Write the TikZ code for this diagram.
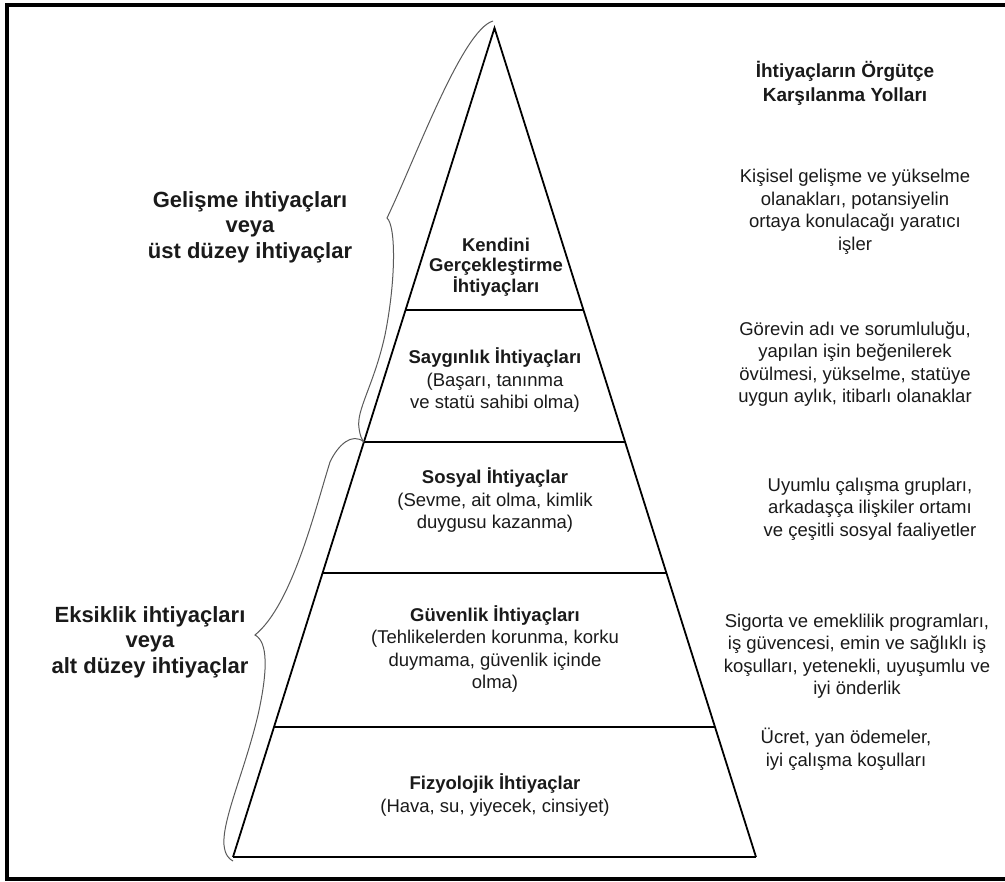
\documentclass[tikz,border=0pt]{standalone}
\usepackage{fontspec}
\setmainfont{Liberation Sans}
\usetikzlibrary{calc}
\definecolor{ink}{HTML}{1A1A1A}
\definecolor{bracegray}{HTML}{5A5A5A}
\begin{document}
\begin{tikzpicture}[x=1pt,y=-1pt,
  body/.style={font=\fontsize{18.5}{22.5}\selectfont, align=center, inner sep=0pt, text=ink},
  bodytight/.style={font=\fontsize{18.5}{20.5}\selectfont, align=center, inner sep=0pt, text=ink},
  header/.style={font=\bfseries\fontsize{19}{24}\selectfont, align=center, inner sep=0pt, text=ink},
  sidelabel/.style={font=\bfseries\fontsize{22}{25.5}\selectfont, align=center, inner sep=0pt, text=ink},
  pyrside/.style={line width=1.8pt, black},
  layer/.style={line width=2.3pt, black},
  bracket/.style={line width=1pt, bracegray},
  frameline/.style={line width=3.5pt, black}]
\useasboundingbox (0,0) rectangle (1005,882);
\clip (0,0) rectangle (1005,882);
\fill[white] (0,0) rectangle (1005,882);

% outer frame
\draw[frameline] (7,5) rectangle (1020,879);

% pyramid outline
\coordinate (apex) at (494.5,28);
\coordinate (bl) at (233,857);
\coordinate (br) at (756,857);
\draw[pyrside, line join=miter] (bl) -- (apex) -- (br);
\draw[layer] (bl) -- (br);

% level dividers
\foreach \t/\n in {0.3402/a, 0.4994/b, 0.6574/c, 0.8432/d}{
  \coordinate (L\n) at ($(apex)!\t!(bl)$);
  \coordinate (R\n) at ($(apex)!\t!(br)$);
  \draw[layer] (L\n) -- (R\n);
}

% braces on the left side
\coordinate (b1top) at (493,21);
\coordinate (b1tip) at (387,218);
\coordinate (b1bot) at (364,442);
\coordinate (b2tip) at (255,635);
\coordinate (b2bot) at (233,861);
\draw[bracket] (b1top) .. controls (462,30) and (415,160) .. (b1tip)
  .. controls (396,226) and (396,280) .. (385,335)
  .. controls (374,385) and (356,410) .. (359,428)
  .. controls (360,436) and (362,440) .. (b1bot);
\draw[bracket] (b1bot) .. controls (352,432) and (338,445) .. (330,462)
  .. controls (315,510) and (292,605) .. (b2tip)
  .. controls (268,642) and (268,670) .. (258,715)
  .. controls (245,770) and (222,820) .. (224,845)
  .. controls (225,855) and (229,859) .. (b2bot);

% pyramid level texts
\node[bodytight] (kendini) at (496,267) {\textbf{Kendini}\\\textbf{Gerçekleştirme}\\\textbf{İhtiyaçları}};
\node[body] (saygi) at (495,380) {\textbf{Saygınlık İhtiyaçları}\\(Başarı, tanınma\\ve statü sahibi olma)};
\node[body] (sosyal) at (495,500) {\textbf{Sosyal İhtiyaçlar}\\(Sevme, ait olma, kimlik\\duygusu kazanma)};
\node[body] (guven) at (495,649) {\textbf{Güvenlik İhtiyaçları}\\(Tehlikelerden korunma, korku\\duymama, güvenlik içinde\\olma)};
\node[body] (fizyo) at (495,795) {\textbf{Fizyolojik İhtiyaçlar}\\(Hava, su, yiyecek, cinsiyet)};

% right column
\node[header] (baslik) at (845,83) {İhtiyaçların Örgütçe\\Karşılanma Yolları};
\node[body] (kisisel) at (855,212) {Kişisel gelişme ve yükselme\\olanakları, potansiyelin\\ortaya konulacağı yaratıcı\\işler};
\node[body] (gorev) at (855,364) {Görevin adı ve sorumluluğu,\\yapılan işin beğenilerek\\övülmesi, yükselme, statüye\\uygun aylık, itibarlı olanaklar};
\node[body] (uyum) at (870,509) {Uyumlu çalışma grupları,\\arkadaşça ilişkiler ortamı\\ve çeşitli sosyal faaliyetler};
\node[body] (sigorta) at (857,656) {Sigorta ve emeklilik programları,\\iş güvencesi, emin ve sağlıklı iş\\koşulları, yetenekli, uyuşumlu ve\\iyi önderlik};
\node[body] (ucret) at (846,749) {Ücret, yan ödemeler,\\iyi çalışma koşulları};

% left labels
\node[sidelabel] (gelisme) at (250,227) {Gelişme ihtiyaçları\\veya\\üst düzey ihtiyaçlar};
\node[sidelabel] (eksik) at (150,642) {Eksiklik ihtiyaçları\\veya\\alt düzey ihtiyaçlar};
\end{tikzpicture}
\end{document}
